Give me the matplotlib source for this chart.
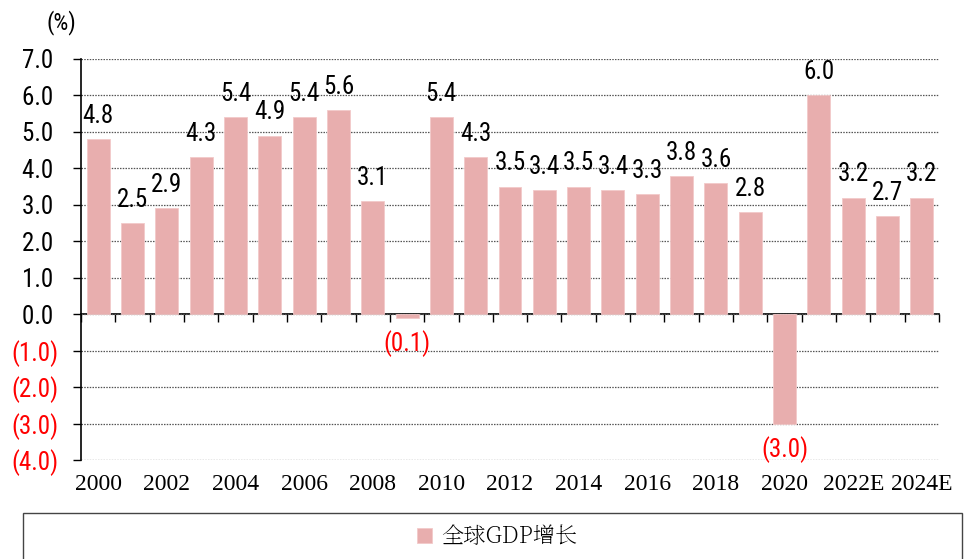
import matplotlib
matplotlib.use("Agg")
import matplotlib.pyplot as plt
from matplotlib.patches import Rectangle

years = ["2000", "2001", "2002", "2003", "2004", "2005", "2006", "2007", "2008", "2009",
         "2010", "2011", "2012", "2013", "2014", "2015", "2016", "2017", "2018", "2019",
         "2020", "2021", "2022E", "2023E", "2024E"]
gdp_growth = [4.8, 2.5, 2.9, 4.3, 5.4, 4.9, 5.4, 5.6, 3.1, -0.1,
              5.4, 4.3, 3.5, 3.4, 3.5, 3.4, 3.3, 3.8, 3.6, 2.8,
              -3.0, 6.0, 3.2, 2.7, 3.2]
yticks = [7, 6, 5, 4, 3, 2, 1, 0, -1, -2, -3, -4]
series_name = "全球GDP增长"
unit_label = "(%)"

narrow = ["Roboto Condensed", "Archivo Narrow", "DejaVu Sans"]
serif = ["Liberation Serif", "DejaVu Serif"]
cjk_serif = ["Noto Serif SC", "Noto Serif CJK JP", "Noto Sans CJK SC", "DejaVu Sans"]

def fmt(v):
    return f"({abs(v):.1f})" if v < 0 else f"{v:.1f} "

bar_color = "#E8AEAE"
red = "#FF0000"

fig = plt.figure(figsize=(9.64, 5.59), dpi=100)
ax = fig.add_axes([81/964, 1-460/559, (939-81)/964, (460-59)/559])
ymin, ymax = -4, 7
x = list(range(len(years)))
bars = ax.bar(x, gdp_growth, width=0.67, color=bar_color, edgecolor="#F2CACA", linewidth=0.6, zorder=3)
ax.set_xlim(-0.5, len(years)-0.5)
ax.set_ylim(ymin, ymax)

# y axis and grid
ax.set_yticks(yticks)
ax.set_yticklabels([fmt(v) for v in yticks], fontfamily=narrow, fontsize=18)
for lab, v in zip(ax.get_yticklabels(), yticks):
    if v < 0:
        lab.set_color(red)
ax.yaxis.grid(True, linestyle=(0, (1.2, 1.0)), color="#555555", linewidth=0.9, zorder=0)
ax.tick_params(axis="y", direction="out", length=6, width=1, pad=10, color="black")
for s in ["top", "right", "bottom"]:
    ax.spines[s].set_visible(False)
ax.spines["left"].set_linewidth(1.2)

# x labels at bottom
ax.set_xticks(x[::2])
ax.set_xticklabels(years[::2], fontfamily=serif, fontsize=17)
ax.tick_params(axis="x", length=0, pad=10)

# zero axis with ticks at category boundaries
sec = ax.secondary_xaxis((0 - ymin) / (ymax - ymin))
sec.set_xticks([i - 0.5 for i in range(len(years) + 1)])
sec.set_xticklabels([])
sec.tick_params(axis="x", direction="out", length=6, width=1, color="black")
sec.spines["bottom"].set_linewidth(1.2)
sec.spines["bottom"].set_zorder(5)

# data labels
for xi, v in zip(x, gdp_growth):
    if v >= 0:
        ax.annotate(f"{v:.1f}", (xi, v), xytext=(0, 8), textcoords="offset points",
                    ha="center", va="bottom", fontfamily=narrow, fontsize=18, color="black", zorder=6)
    else:
        ax.annotate(fmt(v), (xi, v), xytext=(0, -9), textcoords="offset points",
                    ha="center", va="top", fontfamily=narrow, fontsize=18, color=red, zorder=6)

# unit label
fig.text(61/964, 1-23/559, unit_label, fontfamily=narrow, fontsize=17, ha="center", va="center")

# legend box
fig.patches.append(Rectangle((23/964, -0.05), (962-23)/964, (559-513)/559 + 0.05,
                             transform=fig.transFigure, fill=False, edgecolor="#444444", linewidth=1.0))
fig.legend([bars], [series_name], loc="center", bbox_to_anchor=(497/964, 1-537/559), frameon=False,
           prop={"family": cjk_serif, "size": 16}, handlelength=0.7, handleheight=0.7,
           handletextpad=0.4)

fig.savefig("out.png", dpi=100)
